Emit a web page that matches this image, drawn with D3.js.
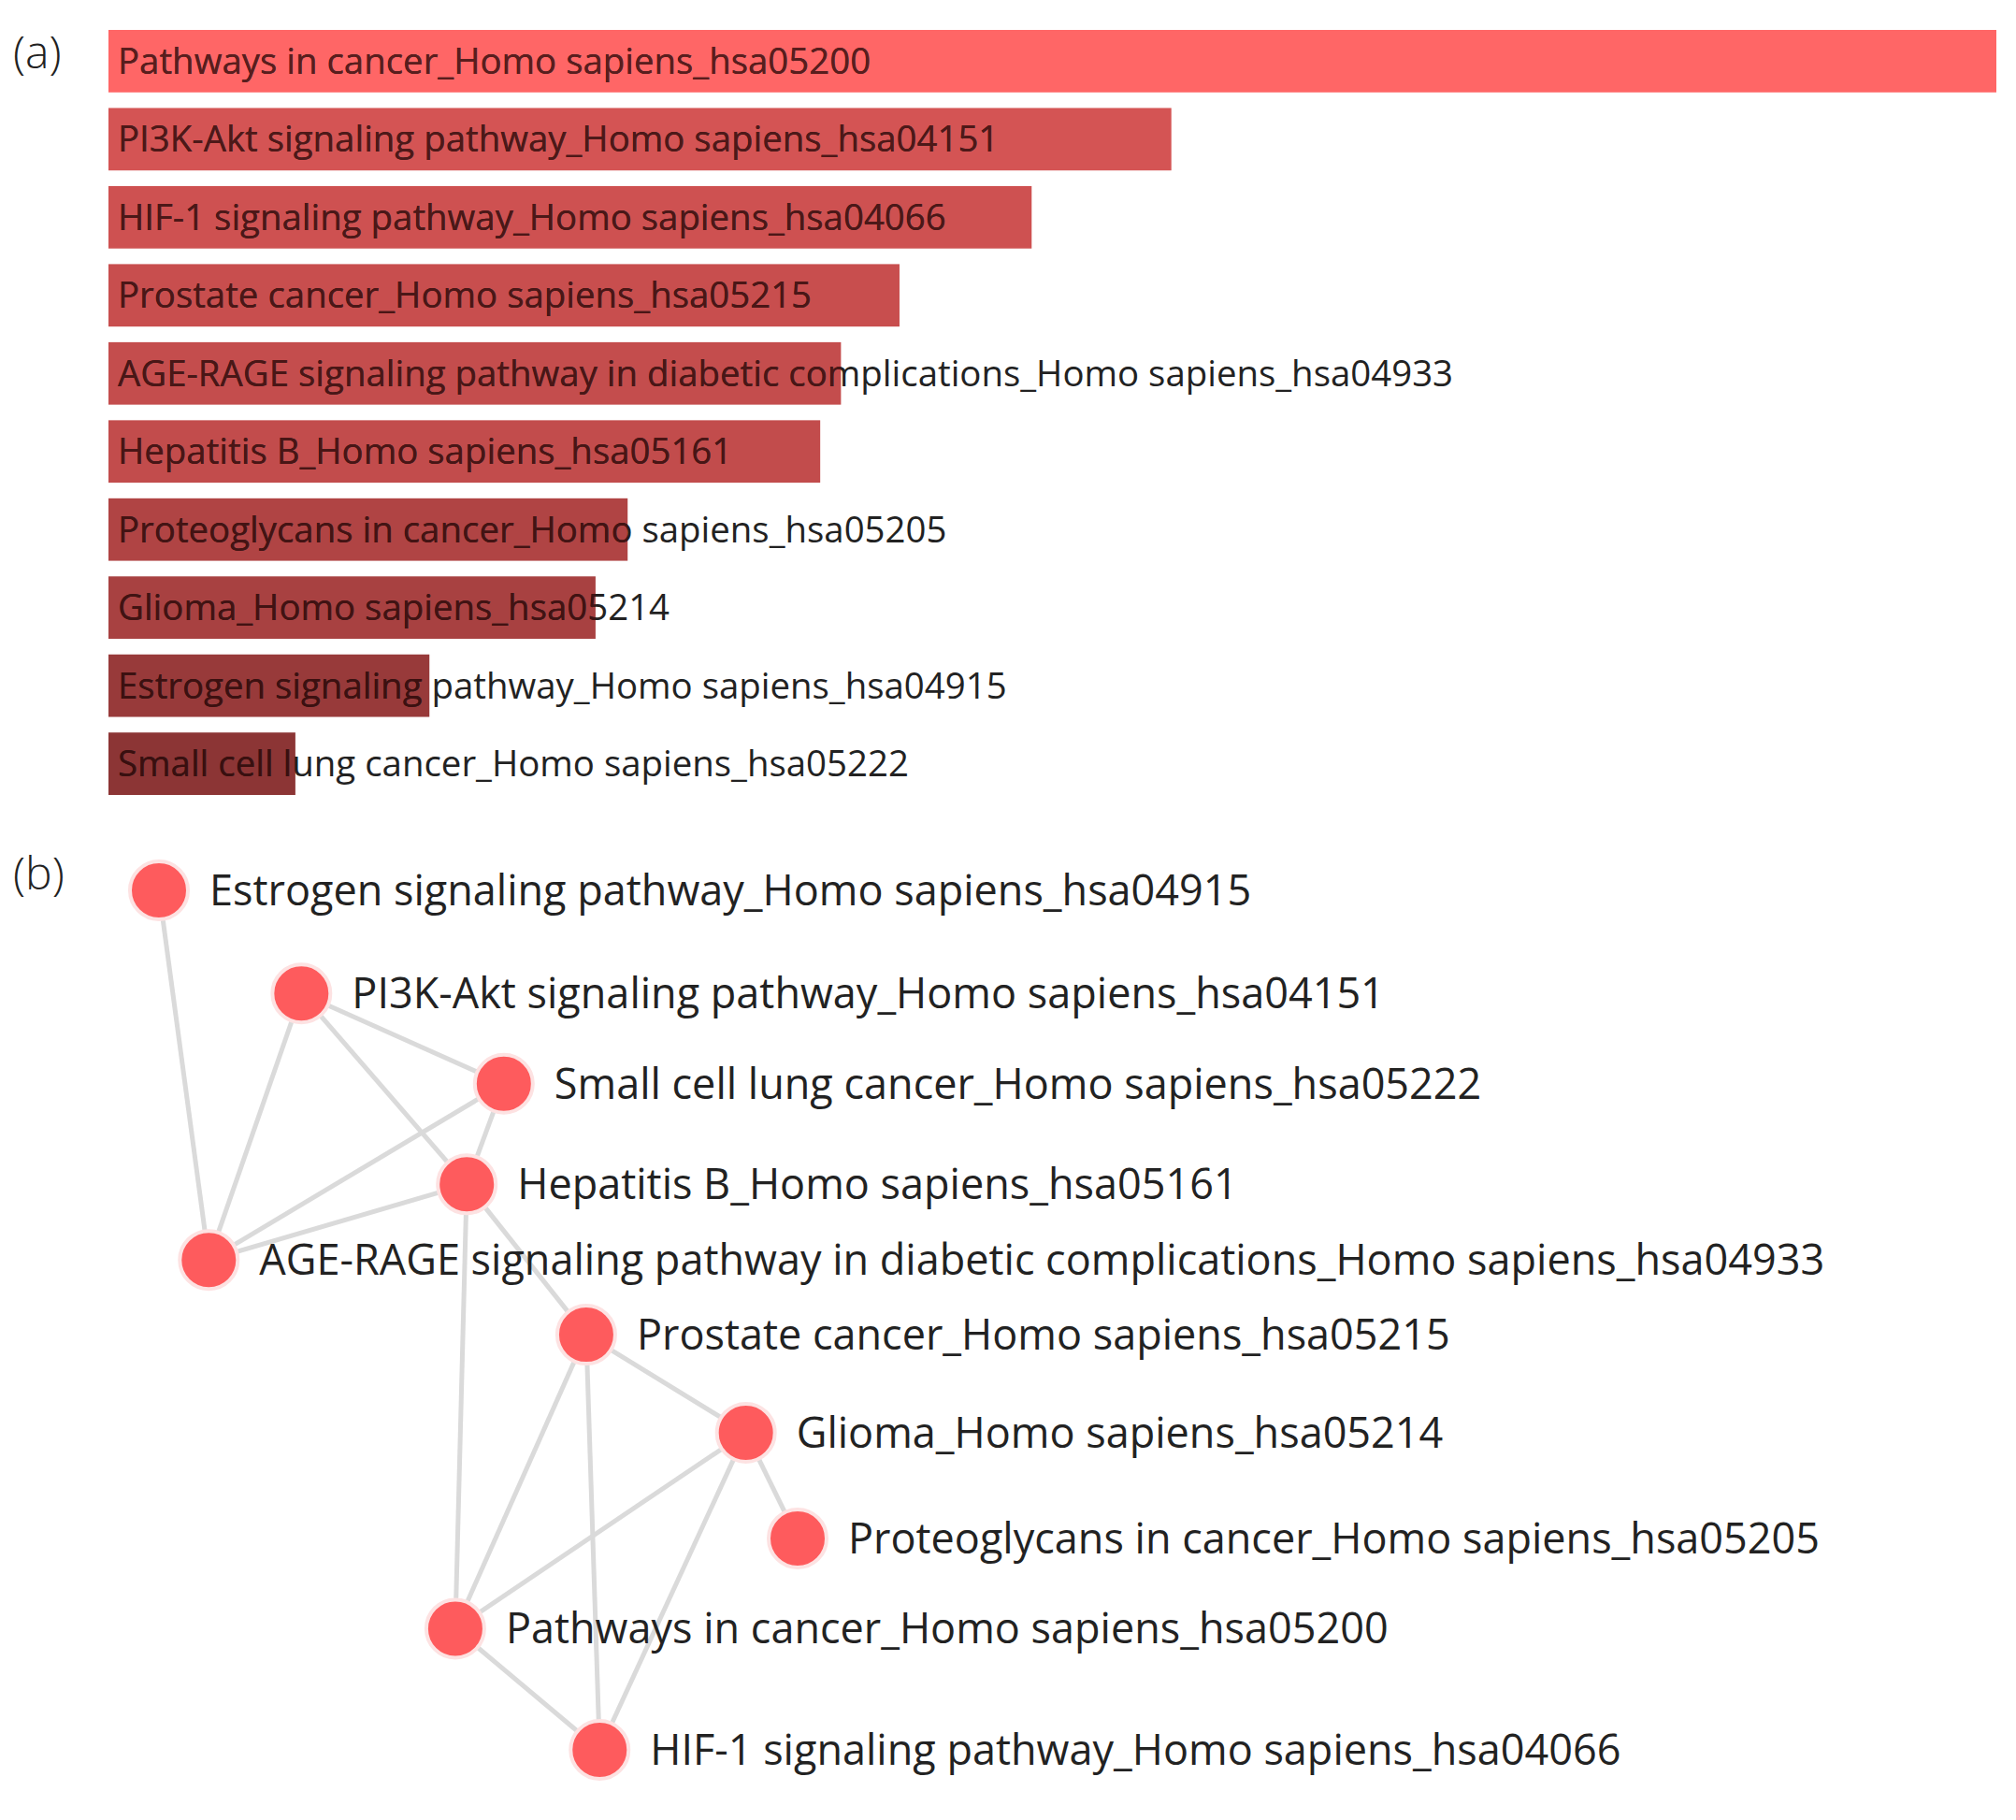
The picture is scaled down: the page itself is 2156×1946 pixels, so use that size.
<!DOCTYPE html>
<html>
<head>
<meta charset="utf-8">
<script src="https://cdn.jsdelivr.net/npm/d3@7"></script>
<style>
  body { margin: 0; background: #fff; }
  svg { display: block; }
</style>
</head>
<body>
<div id="svg-container"></div>
<script>

// (a) enrichment bar chart
const terms = [
    "Pathways in cancer_Homo sapiens_hsa05200",
    "PI3K-Akt signaling pathway_Homo sapiens_hsa04151",
    "HIF-1 signaling pathway_Homo sapiens_hsa04066",
    "Prostate cancer_Homo sapiens_hsa05215",
    "AGE-RAGE signaling pathway in diabetic complications_Homo sapiens_hsa04933",
    "Hepatitis B_Homo sapiens_hsa05161",
    "Proteoglycans in cancer_Homo sapiens_hsa05205",
    "Glioma_Homo sapiens_hsa05214",
    "Estrogen signaling pathway_Homo sapiens_hsa04915",
    "Small cell lung cancer_Homo sapiens_hsa05222"
];
// relative score (bar length), top term = 100
const scores = [100, 56.3, 48.9, 41.9, 38.8, 37.7, 27.5, 25.8, 17.0, 9.9];
// relative significance (bar colour), 1 = most significant
const significance = [1.0, 0.63, 0.57, 0.52, 0.49, 0.47, 0.31, 0.24, 0.10, 0.0];

// (b) term network
const nodeNames = [
    "Estrogen signaling pathway_Homo sapiens_hsa04915",
    "PI3K-Akt signaling pathway_Homo sapiens_hsa04151",
    "Small cell lung cancer_Homo sapiens_hsa05222",
    "Hepatitis B_Homo sapiens_hsa05161",
    "AGE-RAGE signaling pathway in diabetic complications_Homo sapiens_hsa04933",
    "Prostate cancer_Homo sapiens_hsa05215",
    "Glioma_Homo sapiens_hsa05214",
    "Proteoglycans in cancer_Homo sapiens_hsa05205",
    "Pathways in cancer_Homo sapiens_hsa05200",
    "HIF-1 signaling pathway_Homo sapiens_hsa04066"
];
// layout coordinates (0-100 units)
const nodeX = [0, 22.3, 54.0, 48.2, 7.8, 66.9, 91.9, 100, 46.4, 69.0];
const nodeY = [0, 12.0, 22.5, 34.2, 43.0, 51.7, 63.1, 75.4, 85.9, 100];
const edgeSource = [0, 1, 1, 1, 2, 2, 3, 3, 3, 5, 5, 5, 6, 6, 6, 8];
const edgeTarget = [4, 4, 2, 3, 4, 3, 4, 8, 5, 6, 8, 9, 7, 8, 9, 9];

const [viewWidth, viewHeight] = [2156, 1946];

const svg = d3.select("#svg-container")
    .append("svg")
    .attr("width", viewWidth)
    .attr("height", viewHeight)
    .attr("viewBox", `0 0 ${viewWidth} ${viewHeight}`)
    .style("font-family", "'Open Sans', sans-serif");

const buildBarChart = () => {

    const x = d3.scaleLinear()
        .domain([0, 100])
        .range([116, 2135]);

    const y = d3.scaleBand()
        .domain(terms)
        .range([32, 850])
        .paddingInner(0.2);

    const color = d3.scaleLinear()
        .domain([0, 1])
        .range(["#8c3535", "#ff6666"]);

    const data = terms.map((t, i) => ({term: t, score: scores[i], sig: significance[i], i}));

    const defs = svg.append("defs");
    defs.selectAll("clipPath")
        .data(data)
        .enter()
        .append("clipPath")
        .attr("id", d => `bar-clip-${d.i}`)
        .append("rect")
        .attr("x", x(0))
        .attr("y", d => y(d.term))
        .attr("width", d => x(d.score) - x(0))
        .attr("height", y.bandwidth());

    const row = svg.append("g")
        .attr("class", "bars")
        .selectAll("g")
        .data(data)
        .enter()
        .append("g");

    row.append("rect")
        .attr("x", x(0))
        .attr("y", d => y(d.term))
        .attr("width", d => x(d.score) - x(0))
        .attr("height", y.bandwidth())
        .attr("fill", d => color(d.sig));

    row.append("text")
        .attr("x", x(0) + 10)
        .attr("y", d => y(d.term) + y.bandwidth() / 2)
        .attr("dy", "0.35em")
        .attr("font-size", 38.4)
        .attr("fill", "#222")
        .text(d => d.term);

    // label part that sits on the bar is drawn in a dark tint of the bar colour
    row.append("text")
        .attr("clip-path", d => `url(#bar-clip-${d.i})`)
        .attr("x", x(0) + 10)
        .attr("y", d => y(d.term) + y.bandwidth() / 2)
        .attr("dy", "0.35em")
        .attr("font-size", 38.4)
        .attr("fill", d => d3.interpolateRgb(color(d.sig), "#1a0000")(0.72))
        .text(d => d.term);

    svg.append("text")
        .attr("x", 14)
        .attr("y", 73)
        .attr("font-size", 48)
        .attr("font-weight", 300)
        .attr("fill", "#222")
        .text("(a)");
};

const buildNetwork = () => {

    const x = d3.scaleLinear()
        .domain([0, 100])
        .range([170, 853]);

    const y = d3.scaleLinear()
        .domain([0, 100])
        .range([952, 1871]);

    const nodes = nodeNames.map((n, i) => ({name: n, x: x(nodeX[i]), y: y(nodeY[i])}));
    const links = edgeSource.map((s, i) => ({source: nodes[s], target: nodes[edgeTarget[i]]}));

    svg.append("g")
        .attr("class", "links")
        .selectAll("line")
        .data(links)
        .enter()
        .append("line")
        .attr("x1", d => d.source.x)
        .attr("y1", d => d.source.y)
        .attr("x2", d => d.target.x)
        .attr("y2", d => d.target.y)
        .attr("stroke", "#dadada")
        .attr("stroke-width", 5);

    const node = svg.append("g")
        .attr("class", "nodes")
        .selectAll("g")
        .data(nodes)
        .enter()
        .append("g")
        .attr("transform", d => `translate(${d.x},${d.y})`);

    node.append("circle")
        .attr("r", 31)
        .attr("fill", "#fe5b5d")
        .attr("stroke", "#fde2e2")
        .attr("stroke-width", 4);

    node.append("text")
        .attr("x", 54)
        .attr("dy", "0.35em")
        .attr("font-size", 45)
        .attr("fill", "#222")
        .text(d => d.name);

    svg.append("text")
        .attr("x", 14)
        .attr("y", 951)
        .attr("font-size", 48)
        .attr("font-weight", 300)
        .attr("fill", "#222")
        .text("(b)");
};

buildBarChart();
buildNetwork();

</script>
</body>
</html>
